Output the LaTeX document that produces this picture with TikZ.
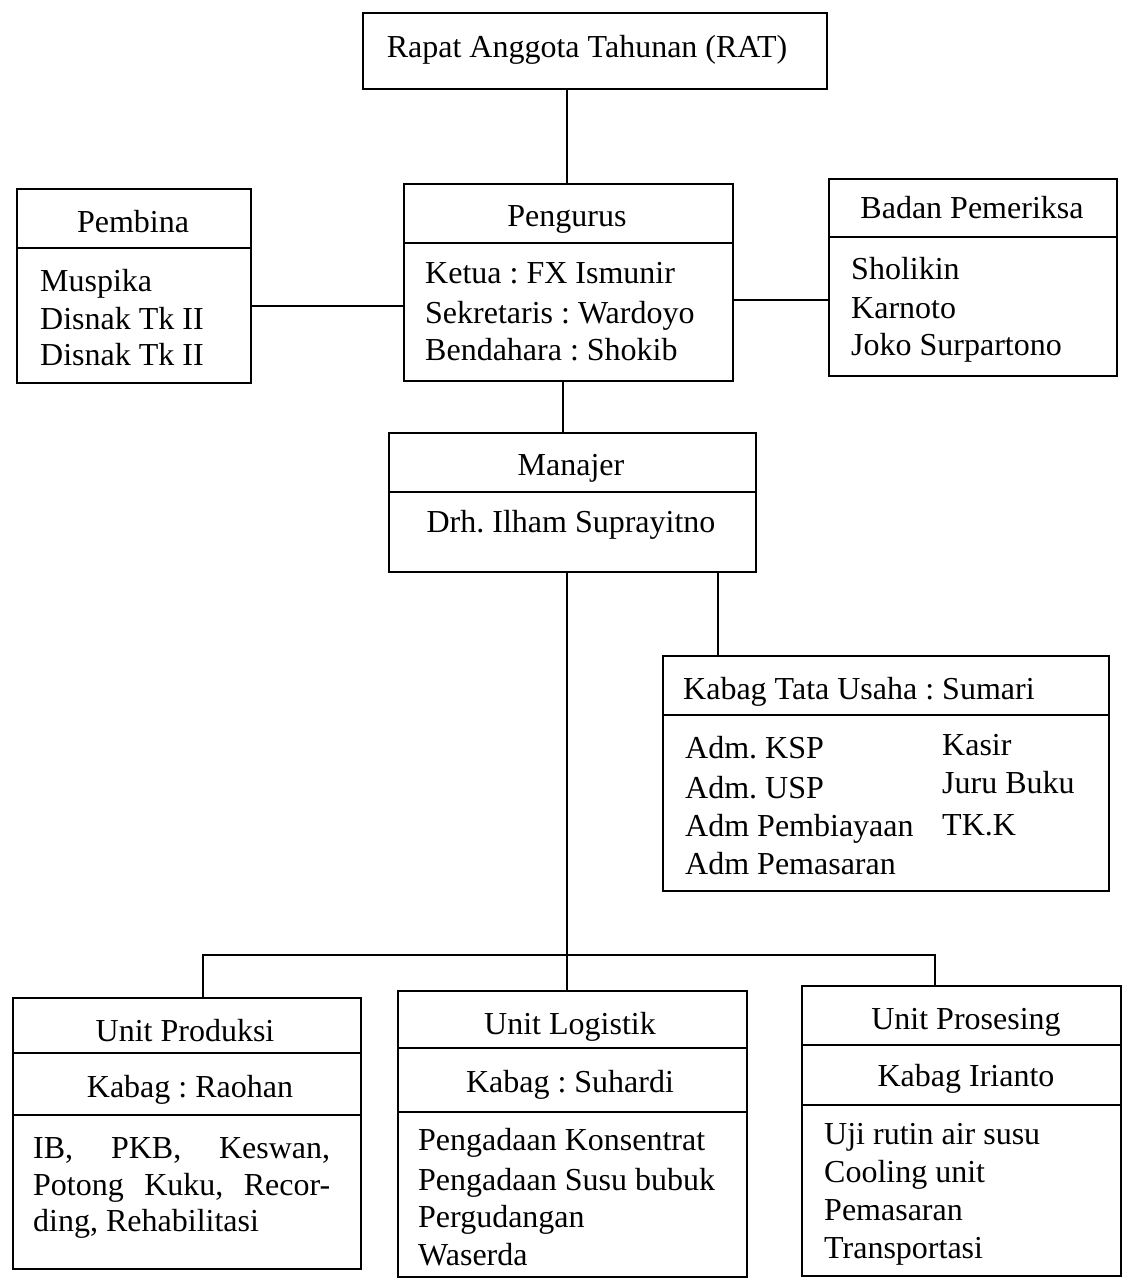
\documentclass[tikz,border=0pt]{standalone}
\usepackage{fontspec}
\setmainfont{Liberation Serif}
\begin{document}
\frenchspacing
\begin{tikzpicture}[x=1pt,y=-1pt,
  box/.style={draw,line width=2.2pt,rectangle,anchor=north west,inner sep=0pt},
  txt/.style={inner sep=0pt,font=\fontsize{32}{38}\selectfont\frenchspacing},
  lt/.style={txt,anchor=base west},
  ct/.style={txt,anchor=base},
  link/.style={line width=2.2pt}]
\useasboundingbox (0,0) rectangle (1130,1279);
% boxes
\node[box,minimum width=464pt,minimum height=76pt] (rat) at (362,12) {};
\node[box,minimum width=234pt,minimum height=194pt] (pemb) at (16,188) {};
\node[box,minimum width=329pt,minimum height=197pt] (peng) at (403,183) {};
\node[box,minimum width=288pt,minimum height=197pt] (bad) at (828,178) {};
\node[box,minimum width=367pt,minimum height=139pt] (man) at (388,432) {};
\node[box,minimum width=446pt,minimum height=235pt] (tu) at (662,655) {};
\node[box,minimum width=348pt,minimum height=271pt] (prod) at (12,997) {};
\node[box,minimum width=349pt,minimum height=286pt] (log) at (397,990) {};
\node[box,minimum width=319pt,minimum height=290pt] (pros) at (801,985) {};
% dividers
\draw[link] (pemb.west |- 0,248) -- (pemb.east |- 0,248);
\draw[link] (peng.west |- 0,243) -- (peng.east |- 0,243);
\draw[link] (bad.west |- 0,237) -- (bad.east |- 0,237);
\draw[link] (man.west |- 0,492) -- (man.east |- 0,492);
\draw[link] (tu.west |- 0,715) -- (tu.east |- 0,715);
\draw[link] (prod.west |- 0,1053) -- (prod.east |- 0,1053);
\draw[link] (prod.west |- 0,1115) -- (prod.east |- 0,1115);
\draw[link] (log.west |- 0,1048) -- (log.east |- 0,1048);
\draw[link] (log.west |- 0,1112) -- (log.east |- 0,1112);
\draw[link] (pros.west |- 0,1045) -- (pros.east |- 0,1045);
\draw[link] (pros.west |- 0,1105) -- (pros.east |- 0,1105);
% texts
\node[ct] (ratT) at (587,58) {Rapat Anggota Tahunan (RAT)};
\node[ct] (pembT) at (133,232) {Pembina};
\node[lt] (pemb1) at (40,291) {Muspika};
\node[lt] (pemb2) at (40,329) {Disnak Tk II};
\node[lt] (pemb3) at (40,365) {Disnak Tk II};
\node[ct] (pengT) at (567,226) {Pengurus};
\node[lt] (peng1) at (425,283) {Ketua : FX Ismunir};
\node[lt] (peng2) at (425,323) {Sekretaris : Wardoyo};
\node[lt] (peng3) at (425,360) {Bendahara : Shokib};
\node[ct] (badT) at (972,218) {Badan Pemeriksa};
\node[lt] (bad1) at (851,279) {Sholikin};
\node[lt] (bad2) at (851,318) {Karnoto};
\node[lt] (bad3) at (851,355) {Joko Surpartono};
\node[ct] (manT) at (571,475) {Manajer};
\node[ct] (man1) at (571,532) {Drh. Ilham Suprayitno};
\node[lt] (tuT) at (683,699) {Kabag Tata Usaha : Sumari};
\node[lt] (tu1) at (685,758) {Adm. KSP};
\node[lt] (tu2) at (685,798) {Adm. USP};
\node[lt] (tu3) at (685,836) {Adm Pembiayaan};
\node[lt] (tu4) at (685,874) {Adm Pemasaran};
\node[lt] (tu5) at (942,755) {Kasir};
\node[lt] (tu6) at (942,793) {Juru Buku};
\node[lt] (tu7) at (942,835) {TK.K};
\node[ct] (prodT) at (185,1041) {Unit Produksi};
\node[ct] (prodK) at (190,1097) {Kabag : Raohan};
\node[lt] (prod1) at (33,1158) {\makebox[297pt][s]{IB, PKB, Keswan,}};
\node[lt] (prod2) at (33,1195) {\makebox[297pt][s]{Potong Kuku, Recor-}};
\node[lt] (prod3) at (33,1231) {ding, Rehabilitasi};
\node[ct] (logT) at (570,1034) {Unit Logistik};
\node[ct] (logK) at (570,1092) {Kabag : Suhardi};
\node[lt] (log1) at (418,1150) {Pengadaan Konsentrat};
\node[lt] (log2) at (418,1190) {Pengadaan Susu bubuk};
\node[lt] (log3) at (418,1227) {Pergudangan};
\node[lt] (log4) at (418,1265) {Waserda};
\node[ct] (prosT) at (966,1029) {Unit Prosesing};
\node[ct] (prosK) at (966,1086) {Kabag Irianto};
\node[lt] (pros1) at (824,1144) {Uji rutin air susu};
\node[lt] (pros2) at (824,1182) {Cooling unit};
\node[lt] (pros3) at (824,1220) {Pemasaran};
\node[lt] (pros4) at (824,1258) {Transportasi};
% connectors
\coordinate (busL) at (203,955);
\coordinate (busR) at (935,955);
\draw[link] ([xshift=-2pt]peng.north) -- ([xshift=-2pt]peng.north |- rat.south);
\draw[link] ([yshift=-20pt]pemb.east) -- ([yshift=-20pt]pemb.east -| peng.west);
\draw[link] ([yshift=-17pt]peng.east) -- ([yshift=-17pt]peng.east -| bad.west);
\draw[link] ([xshift=-6pt]peng.south) -- ([xshift=-6pt]peng.south |- man.north);
\draw[link] ([xshift=-6pt]man.south) -- ([xshift=-6pt]man.south |- log.north);
\draw[link] ([xshift=145pt]man.south) -- ([xshift=145pt]man.south |- tu.north);
\draw[link] (busL |- prod.north) -- (busL) -- (busR) -- (busR |- pros.north);
\end{tikzpicture}
\end{document}
